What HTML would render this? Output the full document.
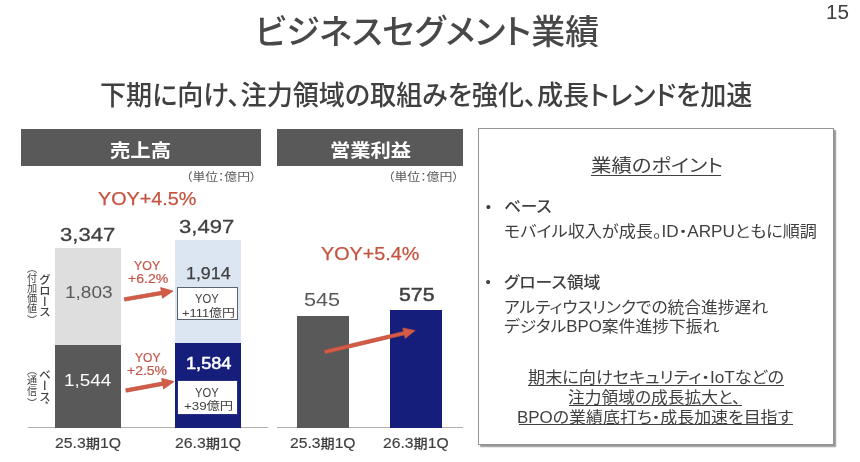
<!DOCTYPE html>
<html lang="ja"><head><meta charset="utf-8"><title>ビジネスセグメント業績</title>
<style>
html,body{margin:0;padding:0;background:#fff;}
body{width:860px;height:462px;position:relative;overflow:hidden;font-family:"Liberation Sans","Noto Sans CJK JP",sans-serif;}
.r{position:absolute;}
.t{position:absolute;white-space:nowrap;line-height:1.3;transform-origin:0 0;font-feature-settings:"palt";}
</style></head><body>

<div class="r" style="left:28px;top:427.2px;width:239.5px;height:1.3px;background:#B0B0B0"></div>
<div class="r" style="left:277px;top:427.2px;width:185.5px;height:1.3px;background:#B0B0B0"></div>
<div class="r" style="left:21px;top:129px;width:240px;height:36.6px;background:#595959"></div>
<div class="r" style="left:277px;top:129px;width:185.6px;height:36.6px;background:#595959"></div>
<div class="r" style="left:55px;top:248px;width:66.2px;height:98px;background:#DEDEDE"></div>
<div class="r" style="left:55px;top:345px;width:66.2px;height:83px;background:#595959"></div>
<div class="r" style="left:174.8px;top:240px;width:66.5px;height:104px;background:#DCE6F2"></div>
<div class="r" style="left:174.8px;top:343px;width:66.5px;height:85px;background:#161E7C"></div>
<div class="r" style="left:297px;top:316px;width:52px;height:112px;background:#595959"></div>
<div class="r" style="left:390px;top:310px;width:52px;height:118px;background:#161E7C"></div>
<div class="r" style="left:177px;top:287px;width:61px;height:33.4px;background:#fff;border:1px solid #5c6370;box-sizing:border-box"></div>
<div class="r" style="left:177px;top:380px;width:61.3px;height:34.6px;background:#fff;border:1px solid #2a3080;box-sizing:border-box"></div>
<div class="r" style="left:478px;top:128px;width:356px;height:316.6px;background:#fff;border:1px solid #949494;box-sizing:border-box;box-shadow:1.5px 1.5px 1.2px rgba(150,150,150,1)"></div>

<div class="r" style="left:591px;top:174.7px;width:130px;height:1px;background:#404040"></div>
<div class="r" style="left:528px;top:385.1px;width:255.5px;height:1px;background:#404040"></div>
<div class="r" style="left:569px;top:404.5px;width:173px;height:1px;background:#404040"></div>
<div class="r" style="left:518.5px;top:424.4px;width:274.5px;height:1px;background:#404040"></div>

<svg class="r" style="left:0;top:0" width="860" height="462" viewBox="0 0 860 462"><polygon fill="#D25C47" stroke="#BC4C3A" stroke-width="0.7" stroke-linejoin="miter" points="124.8,301.1 161.9,294.7 162.5,298.3 173.0,291.0 160.6,287.6 161.3,291.3 124.2,297.7"/><polygon fill="#D25C47" stroke="#BC4C3A" stroke-width="0.7" stroke-linejoin="miter" points="126.3,392.2 162.9,385.4 163.6,389.1 174.0,381.6 161.6,378.4 162.3,382.0 125.7,388.8"/><polygon fill="#D25C47" stroke="#BC4C3A" stroke-width="0.7" stroke-linejoin="miter" points="325.1,353.7 404.3,334.9 405.2,338.5 415.2,330.5 402.7,327.9 403.5,331.5 324.3,350.3"/></svg>
<div class="t" id="title" style="left:254.9px;top:11.2px;font-size:33.80px;color:#484848;font-weight:500;transform:scale(1.0040,1.0000);">ビジネスセグメント業績</div>
<div class="t" id="pg" style="left:825.6px;top:-0.5px;font-size:19.60px;color:#404040;font-weight:400;transform:scale(1.0550,1.0000);">15</div>
<div class="t" id="sub" style="left:100.0px;top:79.3px;font-size:26.80px;color:#404040;font-weight:500;transform:scale(0.9734,1.0000);">下期に向け、注力領域の取組みを強化、成長トレンドを加速</div>
<div class="t" id="h1" style="left:110.3px;top:138.9px;font-size:18.70px;color:#fff;font-weight:700;transform:scale(1.0877,1.0000);">売上高</div>
<div class="t" id="h2" style="left:329.9px;top:138.9px;font-size:18.70px;color:#fff;font-weight:700;transform:scale(1.0851,1.0000);">営業利益</div>
<div class="t" id="u1" style="left:185.7px;top:170.2px;font-size:11.20px;color:#595959;font-weight:400;transform:scale(1.1436,1.0000);">（単位：億円）</div>
<div class="t" id="u2" style="left:387.7px;top:170.2px;font-size:11.20px;color:#595959;font-weight:400;transform:scale(1.1510,1.0000);">（単位：億円）</div>
<div class="t" id="yoy1" style="left:97.8px;top:187.4px;font-size:19.10px;color:#C4543F;font-weight:400;transform:scale(1.0360,1.0000);-webkit-text-stroke:.25px;">YOY+4.5%</div>
<div class="t" id="yoy2" style="left:320.8px;top:241.7px;font-size:19.10px;color:#C4543F;font-weight:400;transform:scale(1.0352,1.0000);-webkit-text-stroke:.25px;">YOY+5.4%</div>
<div class="t" id="t1" style="left:60.4px;top:222.8px;font-size:19.00px;color:#404040;font-weight:400;transform:scale(1.1630,1.0000);-webkit-text-stroke:.3px;">3,347</div>
<div class="t" id="t2" style="left:178.6px;top:215.3px;font-size:19.00px;color:#404040;font-weight:400;transform:scale(1.1630,1.0000);-webkit-text-stroke:.3px;">3,497</div>
<div class="t" id="v1" style="left:65.2px;top:281.6px;font-size:16.30px;color:#595959;font-weight:400;transform:scale(1.1678,1.0000);">1,803</div>
<div class="t" id="v2" style="left:185.7px;top:262.6px;font-size:16.30px;color:#404040;font-weight:400;transform:scale(1.0947,1.0000);-webkit-text-stroke:.25px;">1,914</div>
<div class="t" id="v3" style="left:64.0px;top:369.6px;font-size:16.30px;color:#fff;font-weight:400;transform:scale(1.1585,1.0000);">1,544</div>
<div class="t" id="v4" style="left:185.5px;top:352.8px;font-size:16.30px;color:#fff;font-weight:400;transform:scale(1.1157,1.0000);-webkit-text-stroke:.5px;">1,584</div>
<div class="t" id="ya1" style="left:134.2px;top:258.4px;font-size:12.60px;color:#C5564A;font-weight:400;transform:scale(0.9833,1.0000);-webkit-text-stroke:.2px;">YOY</div>
<div class="t" id="ya2" style="left:127.5px;top:271.4px;font-size:12.60px;color:#C5564A;font-weight:400;transform:scale(1.1195,1.0000);-webkit-text-stroke:.2px;">+6.2%</div>
<div class="t" id="yb1" style="left:135.2px;top:349.9px;font-size:12.60px;color:#C5564A;font-weight:400;transform:scale(0.9580,1.0000);-webkit-text-stroke:.2px;">YOY</div>
<div class="t" id="yb2" style="left:127.0px;top:363.1px;font-size:12.60px;color:#C5564A;font-weight:400;transform:scale(1.1092,1.0000);-webkit-text-stroke:.2px;">+2.5%</div>
<div class="t" id="b1a" style="left:195.3px;top:291.9px;font-size:12.00px;color:#404040;font-weight:400;transform:scale(0.9339,1.0000);">YOY</div>
<div class="t" id="b1b" style="left:181.8px;top:306.4px;font-size:11.40px;color:#404040;font-weight:400;transform:scale(1.1315,1.0000);">+111億円</div>
<div class="t" id="b2a" style="left:195.3px;top:386.4px;font-size:12.00px;color:#404040;font-weight:400;transform:scale(0.9337,1.0000);">YOY</div>
<div class="t" id="b2b" style="left:183.8px;top:399.4px;font-size:11.40px;color:#404040;font-weight:400;transform:scale(1.1680,1.0000);">+39億円</div>
<div class="t" id="x1" style="left:55.2px;top:434.3px;font-size:14.50px;color:#404040;font-weight:500;transform:scale(1.0907,1.0000);-webkit-text-stroke:.15px;">25.3<span style="font-size:.9em">期</span>1Q</div>
<div class="t" id="x2" style="left:174.8px;top:434.3px;font-size:14.50px;color:#404040;font-weight:500;transform:scale(1.0907,1.0000);-webkit-text-stroke:.15px;">26.3<span style="font-size:.9em">期</span>1Q</div>
<div class="t" id="x3" style="left:290.1px;top:434.3px;font-size:14.50px;color:#404040;font-weight:500;transform:scale(1.0808,1.0000);-webkit-text-stroke:.15px;">25.3<span style="font-size:.9em">期</span>1Q</div>
<div class="t" id="x4" style="left:383.1px;top:434.3px;font-size:14.50px;color:#404040;font-weight:500;transform:scale(1.0824,1.0000);-webkit-text-stroke:.15px;">26.3<span style="font-size:.9em">期</span>1Q</div>
<div class="t" id="p545" style="left:304.1px;top:287.9px;font-size:18.60px;color:#595959;font-weight:400;transform:scale(1.1618,1.0000);">545</div>
<div class="t" id="p575" style="left:399.1px;top:282.7px;font-size:18.60px;color:#404040;font-weight:400;transform:scale(1.1424,1.0000);-webkit-text-stroke:.5px;">575</div>
<div class="t" id="vg" style="left:36.6px;top:274.0px;font-size:11.80px;color:#404040;font-weight:500;letter-spacing:-1.20px;writing-mode:vertical-rl;font-feature-settings:normal;line-height:1;">グロース</div>
<div class="t" id="vgs" style="left:25.5px;top:268.4px;font-size:10.10px;color:#404040;font-weight:400;writing-mode:vertical-rl;font-feature-settings:'vhal';line-height:1;">（付加価値<span style="margin-inline-start:1.6px">）</span></div>
<div class="t" id="vb" style="left:36.6px;top:369.0px;font-size:11.80px;color:#404040;font-weight:500;letter-spacing:-1.20px;writing-mode:vertical-rl;font-feature-settings:normal;line-height:1;">ベース</div>
<div class="t" id="vba" style="left:45.0px;top:399.0px;font-size:8.50px;color:#404040;font-weight:400;">*</div>
<div class="t" id="vbs" style="left:25.5px;top:369.6px;font-size:10.10px;color:#404040;font-weight:400;letter-spacing:0.40px;writing-mode:vertical-rl;font-feature-settings:'vhal';line-height:1;">（通信<span style="margin-inline-start:1.6px">）</span></div>
<div class="t" id="bt" style="left:590.5px;top:154.7px;font-size:18.10px;color:#404040;font-weight:400;transform:scale(1.1270,1.0000);">業績のポイント</div>
<div class="t" id="bu1" style="left:485.7px;top:197.4px;font-size:15.00px;color:#404040;font-weight:400;">•</div>
<div class="t" id="k1" style="left:504.0px;top:196.7px;font-size:15.40px;color:#404040;font-weight:500;transform:scale(1.0824,1.0000);">ベース</div>
<div class="t" id="k2" style="left:503.9px;top:222.3px;font-size:15.70px;color:#404040;font-weight:400;transform:scale(1.0927,1.0000);">モバイル収入が成長。ID・ARPUともに順調</div>
<div class="t" id="bu2" style="left:485.5px;top:272.3px;font-size:15.00px;color:#404040;font-weight:400;">•</div>
<div class="t" id="k3" style="left:503.8px;top:272.6px;font-size:15.70px;color:#404040;font-weight:500;transform:scale(1.0752,1.0000);">グロース領域</div>
<div class="t" id="k4" style="left:503.9px;top:298.4px;font-size:15.70px;color:#404040;font-weight:400;transform:scale(1.0671,1.0000);">アルティウスリンクでの統合進捗遅れ</div>
<div class="t" id="k5" style="left:504.3px;top:316.9px;font-size:15.70px;color:#404040;font-weight:400;transform:scale(1.0716,1.0000);">デジタルBPO案件進捗下振れ</div>
<div class="t" id="c1" style="left:527.7px;top:367.8px;font-size:15.80px;color:#404040;font-weight:400;transform:scale(1.0854,1.0000);">期末に向けセキュリティ・IoTなどの</div>
<div class="t" id="c2" style="left:568.1px;top:387.9px;font-size:15.80px;color:#404040;font-weight:400;transform:scale(1.0590,1.0000);">注力領域の成長拡大と、</div>
<div class="t" id="c3" style="left:516.6px;top:407.6px;font-size:15.80px;color:#404040;font-weight:400;transform:scale(1.0724,1.0000);">BPOの業績底打ち・成長加速を目指す</div>
</body></html>
